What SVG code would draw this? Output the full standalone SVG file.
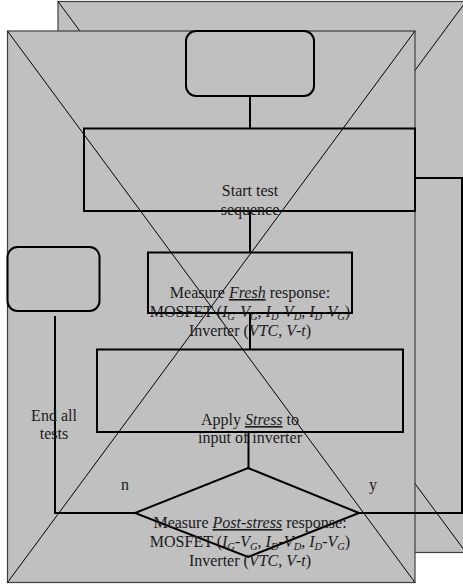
<svg xmlns="http://www.w3.org/2000/svg" width="463" height="586" viewBox="0 0 463 586">
<style>
.bg{fill:#c0c0c0;stroke:#404040;stroke-width:1.2}
.diag{stroke:#000;stroke-width:1;fill:none}
.node{fill:none;stroke:#000;stroke-width:2}
.conn{fill:none;stroke:#000;stroke-width:2}
text{font-family:"Liberation Serif","Times New Roman",serif;font-size:16px;fill:#1a1a1a;text-anchor:middle}
.i{font-style:italic}
.u{text-decoration:underline}
.s{font-size:10.5px;font-style:italic}
</style>
<g id="background">
<rect class="bg" x="58" y="1.5" width="408" height="551"/>
<line class="diag" x1="58" y1="1.5" x2="466" y2="552.5"/>
<line class="diag" x1="466" y1="1.5" x2="58" y2="552.5"/>
<rect class="bg" x="7.5" y="31" width="407.5" height="551.5"/>
<line class="diag" x1="7.5" y1="31" x2="415" y2="582.5"/>
<line class="diag" x1="415" y1="31" x2="7.5" y2="582.5"/>
</g>
<g id="connectors">
<line class="conn" x1="250" y1="96" x2="250" y2="128"/>
<line class="conn" x1="250" y1="211" x2="250" y2="252"/>
<line class="conn" x1="250" y1="313" x2="250" y2="349"/>
<line class="conn" x1="248.5" y1="432" x2="248.5" y2="468"/>
<polyline class="conn" points="135,513 55,513 55,316"/>
<polyline class="conn" points="359,513 462,513 462,178 415,178"/>
</g>
<g id="start-terminal">
<rect class="node" x="186" y="31" width="128" height="65" rx="10"/>
</g>
<g id="start-sequence">
<rect class="node" x="84" y="128.5" width="331" height="82.5"/>
<text x="250" y="196">Start test</text>
<text x="250" y="215">sequence</text>
</g>
<g id="measure-fresh">
<rect class="node" x="148" y="252.5" width="204" height="60.5"/>
<text x="250" y="298">Measure <tspan class="i u">Fresh</tspan> response:</text>
<text x="250" y="317">MOSFET (<tspan class="i">I</tspan><tspan class="s" dy="3">G</tspan><tspan dy="-3">-</tspan><tspan class="i">V</tspan><tspan class="s" dy="3">G</tspan><tspan dy="-3">, </tspan><tspan class="i">I</tspan><tspan class="s" dy="3">D</tspan><tspan dy="-3">-</tspan><tspan class="i">V</tspan><tspan class="s" dy="3">D</tspan><tspan dy="-3">, </tspan><tspan class="i">I</tspan><tspan class="s" dy="3">D</tspan><tspan dy="-3">-</tspan><tspan class="i">V</tspan><tspan class="s" dy="3">G</tspan><tspan dy="-3">)</tspan></text>
<text x="250" y="336">Inverter (<tspan class="i">VTC</tspan>, <tspan class="i">V</tspan>-<tspan class="i">t</tspan>)</text>
</g>
<g id="apply-stress">
<rect class="node" x="97" y="349.5" width="306" height="82.5"/>
<text x="250" y="425">Apply <tspan class="i u">Stress</tspan> to</text>
<text x="250" y="443">input of inverter</text>
</g>
<g id="decision">
<polygon class="node" points="248,468 359,513 248,557 135,513"/>
<text x="250" y="528">Measure <tspan class="i u">Post-stress</tspan> response:</text>
<text x="250" y="547">MOSFET (<tspan class="i">I</tspan><tspan class="s" dy="3">G</tspan><tspan dy="-3">-</tspan><tspan class="i">V</tspan><tspan class="s" dy="3">G</tspan><tspan dy="-3">, </tspan><tspan class="i">I</tspan><tspan class="s" dy="3">D</tspan><tspan dy="-3">-</tspan><tspan class="i">V</tspan><tspan class="s" dy="3">D</tspan><tspan dy="-3">, </tspan><tspan class="i">I</tspan><tspan class="s" dy="3">D</tspan><tspan dy="-3">-</tspan><tspan class="i">V</tspan><tspan class="s" dy="3">G</tspan><tspan dy="-3">)</tspan></text>
<text x="250" y="566">Inverter (<tspan class="i">VTC</tspan>, <tspan class="i">V</tspan>-<tspan class="i">t</tspan>)</text>
</g>
<g id="end-terminal">
<rect class="node" x="7.5" y="247" width="92" height="64" rx="10"/>
</g>
<g id="labels">
<text x="54" y="421">End all</text>
<text x="54" y="439">tests</text>
<text x="125" y="490">n</text>
<text x="373" y="490">y</text>
</g>
</svg>
